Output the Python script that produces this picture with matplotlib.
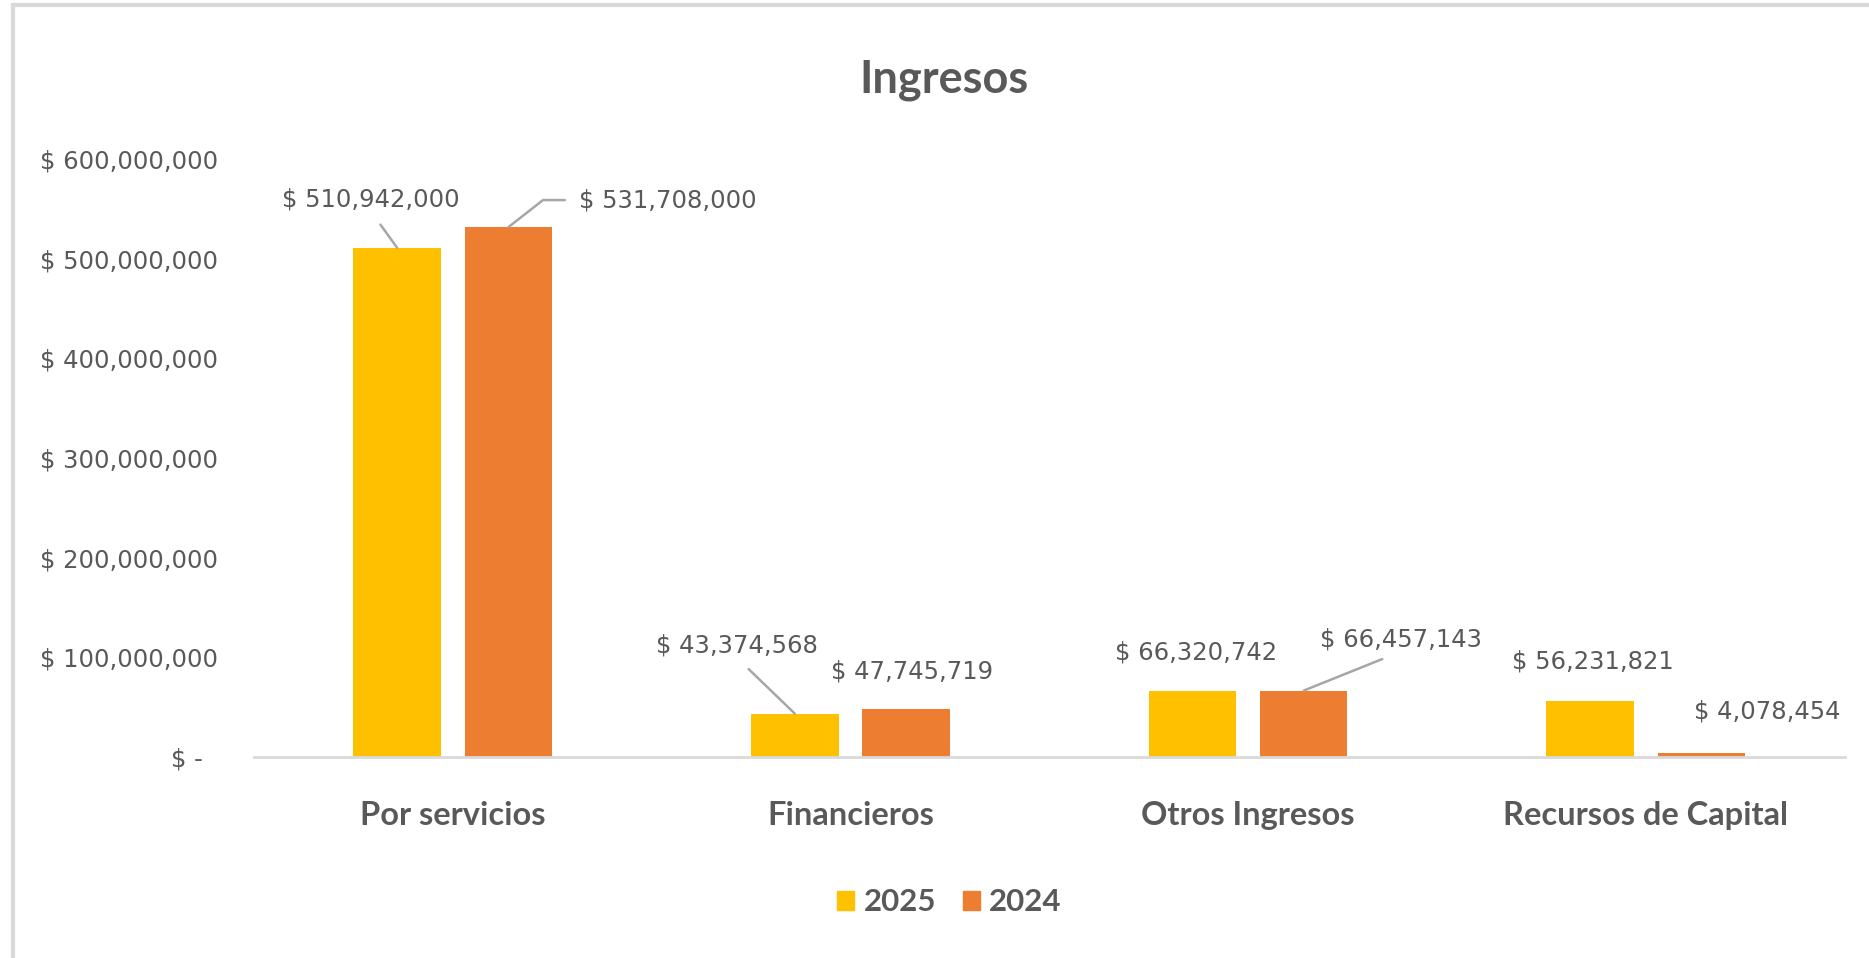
import matplotlib.pyplot as plt
from matplotlib.lines import Line2D
from matplotlib.patches import Patch
import numpy as np

# datos
categorias = ["Por servicios", "Financieros", "Otros Ingresos", "Recursos de Capital"]
ingresos_2025 = [510942000, 43374568, 66320742, 56231821]
ingresos_2024 = [531708000, 47745719, 66457143, 4078454]
ticks_y = [0, 100000000, 200000000, 300000000, 400000000, 500000000, 600000000]

COLOR_2025 = "#FFC000"
COLOR_2024 = "#ED7D31"
GRIS_TEXTO = "#595959"
GRIS_LINEA = "#D9D9D9"
GRIS_GUIA = "#A6A6A6"

fuente_titulos = ["Lato", "DejaVu Sans"]


def formato_pesos(v):
    if v == 0:
        return "$ -  "
    return "$ {:,.0f}".format(v)


fig = plt.figure(figsize=(18.69, 9.58), dpi=100)
ax = fig.add_axes([0.1359, 0.210, 0.851, 0.624])

x = np.arange(len(categorias))
ancho = 0.22
desp = 0.14
barras_25 = ax.bar(x - desp, ingresos_2025, ancho, color=COLOR_2025, label="2025")
barras_24 = ax.bar(x + desp, ingresos_2024, ancho, color=COLOR_2024, label="2024")

ax.set_xlim(-0.5, len(categorias) - 0.5)
ax.set_ylim(0, 600000000)
ax.set_yticks(ticks_y)
ax.set_yticklabels([formato_pesos(t) for t in ticks_y], fontsize=17.5, color=GRIS_TEXTO)
ax.set_xticks(x)
ax.set_xticklabels(categorias, fontsize=23.5, fontweight="bold", color=GRIS_TEXTO,
                   family=fuente_titulos)
ax.tick_params(axis="y", length=0, pad=26)
ax.tick_params(axis="x", length=0, pad=32)

for lado in ["left", "right", "top"]:
    ax.spines[lado].set_visible(False)
ax.spines["bottom"].set_color(GRIS_LINEA)
ax.spines["bottom"].set_linewidth(2)

# etiquetas de datos: (dx, dy) en pixeles, con o sin linea guia
posiciones_25 = [(-26, 48, "recta"), (-58, 68, "recta"), (4, 38, None), (3, 39, None)]
posiciones_24 = [(159, 27, "codo"), (6, 38, None), (97, 51, "recta"), (66, 41, None)]


def etiquetar(barras, valores, posiciones):
    for b, v, (dx, dy, guia) in zip(barras, valores, posiciones):
        xb = b.get_x() + b.get_width() / 2
        props = None
        if guia == "recta":
            props = dict(arrowstyle="-", color=GRIS_GUIA, lw=1.8, shrinkA=9, shrinkB=0,
                         relpos=(0.5, 0.0))
        elif guia == "codo":
            props = dict(arrowstyle="-", color=GRIS_GUIA, lw=1.8, shrinkA=8, shrinkB=0,
                         connectionstyle="angle,angleA=0,angleB=38,rad=0")
        ax.annotate(formato_pesos(v), xy=(xb, v), xytext=(dx, dy),
                    textcoords="offset pixels", ha="center", va="center",
                    fontsize=17.5, color=GRIS_TEXTO, arrowprops=props)


etiquetar(barras_25, ingresos_2025, posiciones_25)
etiquetar(barras_24, ingresos_2024, posiciones_24)

fig.text(0.505, 0.917, "Ingresos", ha="center", va="center", fontsize=32.5,
         fontweight="bold", color=GRIS_TEXTO, family=fuente_titulos)

handles = [Patch(color=COLOR_2025), Patch(color=COLOR_2024)]
fig.legend(handles, ["2025", "2024"], loc="center", bbox_to_anchor=(0.508, 0.058),
           ncol=2, frameon=False, handlelength=0.55, handleheight=0.55,
           handletextpad=0.3, columnspacing=0.85,
           prop=dict(family=fuente_titulos, weight="bold", size=22.5),
           labelcolor=GRIS_TEXTO)

# marco del grafico (izquierda y arriba)
fig.add_artist(Line2D([13 / 1869, 13 / 1869], [0, 1 - 5 / 958], transform=fig.transFigure,
                      color=GRIS_LINEA, lw=3))
fig.add_artist(Line2D([13 / 1869, 1], [1 - 5 / 958, 1 - 5 / 958], transform=fig.transFigure,
                      color=GRIS_LINEA, lw=3))

fig.savefig("out.png", dpi=100, facecolor="white")
